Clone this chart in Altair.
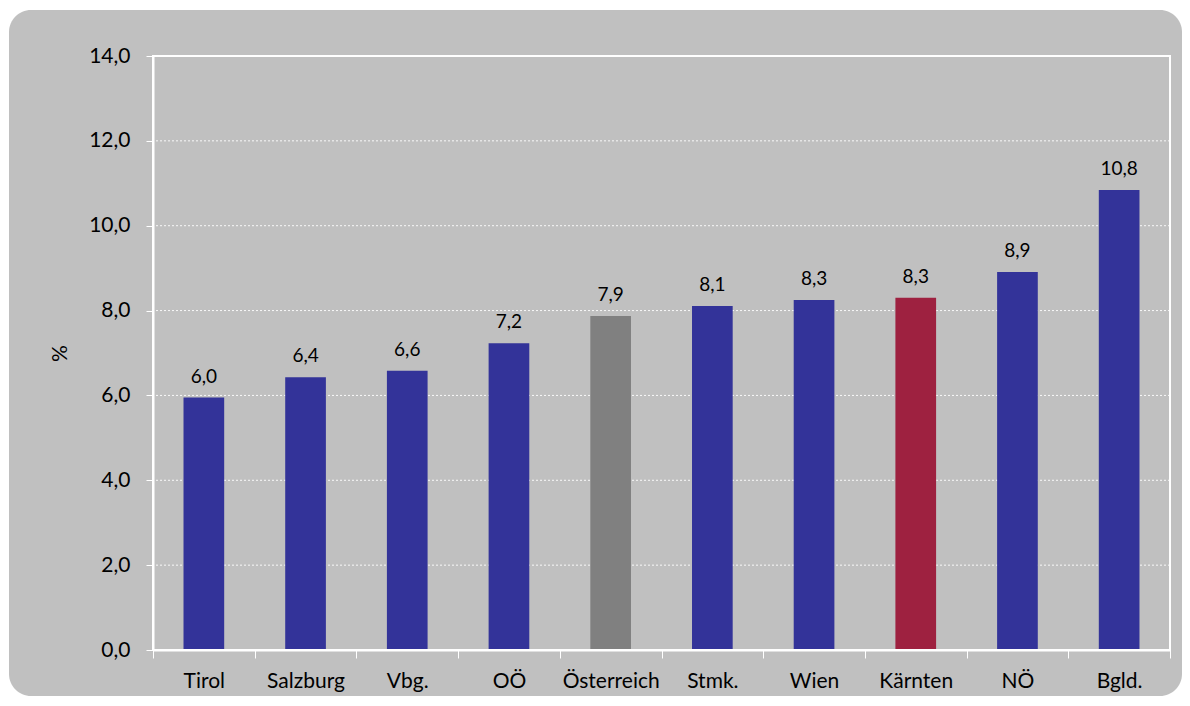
import altair as alt
import pandas as pd

regions = ["Tirol", "Salzburg", "Vbg.", "OÖ", "Österreich", "Stmk.", "Wien", "Kärnten", "NÖ", "Bgld."]
values = [5.95, 6.43, 6.58, 7.23, 7.87, 8.11, 8.25, 8.30, 8.91, 10.84]
labels = ["6,0", "6,4", "6,6", "7,2", "7,9", "8,1", "8,3", "8,3", "8,9", "10,8"]
bar_colors = ["#333399", "#333399", "#333399", "#333399", "#808080",
              "#333399", "#333399", "#9E2140", "#333399", "#333399"]
grid_values = [2, 4, 6, 8, 10, 12]
y_ticks = [0, 2, 4, 6, 8, 10, 12, 14]

W, H = 1017, 594
FONT = "Lato"
BG = "#C0C0C0"

df = pd.DataFrame({"region": regions, "value": values, "label": labels, "color": bar_colors})
grid_df = pd.DataFrame({"g": grid_values})
one = pd.DataFrame({"a": [0]})

xscale = alt.Scale(domain=regions, paddingInner=0, paddingOuter=0)
yscale = alt.Scale(domain=[0, 14], nice=False)

background = alt.Chart(one).mark_rect(fill=BG, cornerRadius=22).encode(
    x=alt.value(-144), x2=alt.value(W + 12), y=alt.value(-46), y2=alt.value(H + 46)
)

grid = alt.Chart(grid_df).mark_rule(color="white", strokeWidth=1, strokeDash=[2, 2], opacity=0.9).encode(
    y=alt.Y("g:Q", scale=yscale)
)

bars = alt.Chart(df).mark_bar(width=alt.RelativeBandSize(0.4)).encode(
    x=alt.X("region:N", scale=xscale, sort=regions,
            axis=alt.Axis(title=None, labelAngle=0, labelFontSize=21, labelFont=FONT,
                          labelColor="black", tickColor="white", tickSize=8, tickWidth=1,
                          tickBand="extent", labelPadding=12, domainColor="white",
                          domainWidth=2, zindex=1)),
    y=alt.Y("value:Q", scale=yscale,
            axis=alt.Axis(title="%", values=y_ticks, grid=False,
                          labelExpr="replace(format(datum.value, '.1f'), '.', ',')",
                          labelFontSize=21, labelFont=FONT, labelColor="black",
                          tickColor="white", tickSize=7, labelPadding=16,
                          domainColor="white", domainWidth=2,
                          titleFont=FONT, titleFontSize=21, titleFontWeight="normal",
                          titleColor="black", titleX=-93, titleY=H / 2, titleAngle=-90,
                          titleAlign="center", titleBaseline="middle", zindex=1)),
    color=alt.Color("color:N", scale=None, legend=None),
)

text = alt.Chart(df).mark_text(dy=-11, baseline="bottom", fontSize=19, font=FONT, color="black").encode(
    x=alt.X("region:N", scale=xscale, sort=regions),
    y=alt.Y("value:Q", scale=yscale),
    text="label:N",
)

border = alt.Chart(one).mark_rect(fillOpacity=0, stroke="white", strokeWidth=2).encode(
    x=alt.value(0), x2=alt.value(W), y=alt.value(0), y2=alt.value(H)
)

chart = alt.layer(background, grid, bars, text, border).properties(
    width=W, height=H,
    autosize=alt.AutoSizeParams(type="none"),
    padding={"left": 145, "top": 48, "right": 12, "bottom": 48},
    background="white",
).configure_view(stroke=None, fill=BG)

chart.save("out.html", embed_options={"renderer": "svg", "actions": False})
